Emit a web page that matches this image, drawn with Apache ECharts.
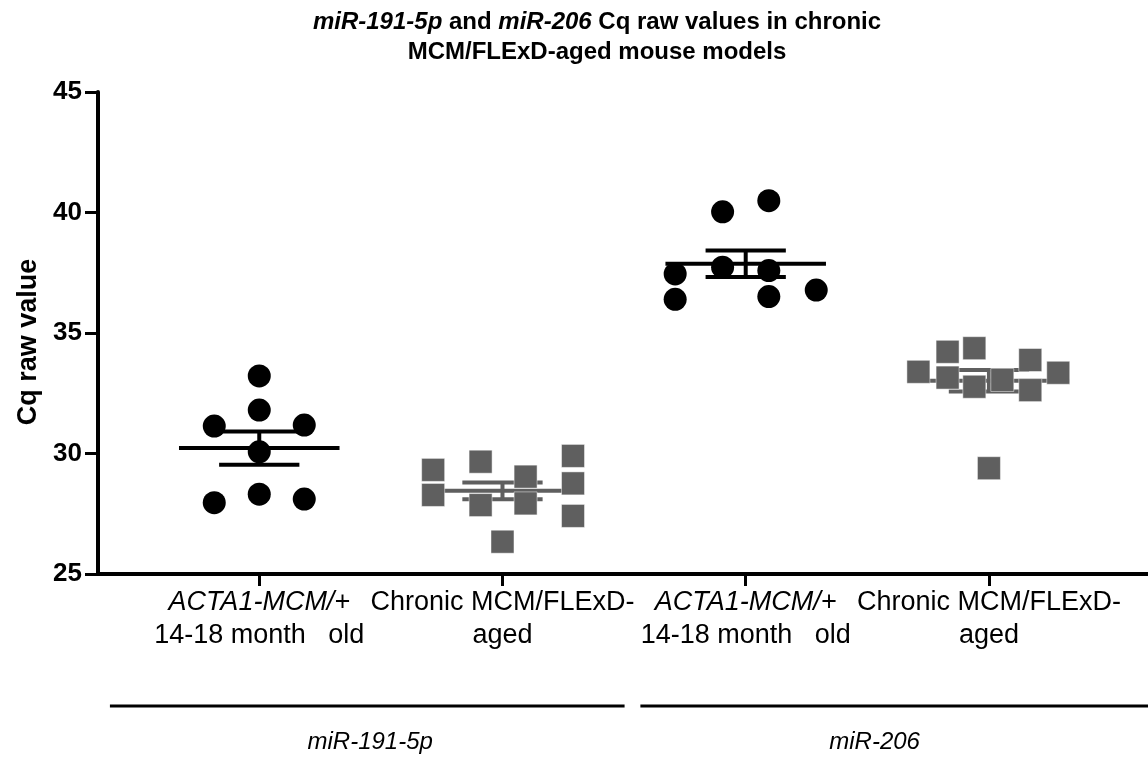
<!DOCTYPE html>
<html><head><meta charset="utf-8">
<script src="https://cdn.jsdelivr.net/npm/echarts@6/dist/echarts.min.js"></script>
<style>html,body{margin:0;padding:0;background:#fff}#c{width:1148px;height:759px}</style>
</head><body><div id="c"></div>
<script>
// ---- data ----
const catLine1 = ['ACTA1-MCM/+', 'Chronic MCM/FLExD-', 'ACTA1-MCM/+', 'Chronic MCM/FLExD-'];
const catLine2 = ['14-18 month   old', 'aged', '14-18 month   old', 'aged'];
const catLine1Italic = [true, false, true, false];
const genes = ['miR-191-5p', 'miR-206'];
const geneSpans = [[0.386, 2.502, 1.456], [2.567, 4.66, 3.53]]; // start, end, label centre (category units)
const yTicks = [25, 30, 35, 40, 45];

// group 1: miR-191-5p, ACTA1-MCM/+ 14-18 month old
const g1Values = [33.22, 31.80, 31.14, 31.18, 30.07, 27.96, 28.31, 28.11];
const g1Jitter = [0, 0, -0.185, 0.185, 0, -0.185, 0, 0.185];
// group 2: miR-191-5p, Chronic MCM/FLExD-aged
const g2Values = [29.32, 28.28, 29.66, 27.86, 26.34, 29.04, 27.93, 29.90, 28.76, 27.41];
const g2Jitter = [-0.285, -0.285, -0.09, -0.09, 0, 0.095, 0.095, 0.29, 0.29, 0.29];
// group 3: miR-206, ACTA1-MCM/+ 14-18 month old
const g3Values = [40.03, 40.49, 37.45, 36.40, 37.73, 37.59, 36.51, 36.78];
const g3Jitter = [-0.095, 0.095, -0.29, -0.29, -0.095, 0.095, 0.095, 0.29];
// group 4: miR-206, Chronic MCM/FLExD-aged
const g4Values = [33.39, 34.22, 33.15, 34.37, 32.77, 29.39, 33.05, 33.88, 32.63, 33.35];
const g4Jitter = [-0.29, -0.17, -0.17, -0.06, -0.06, 0, 0.055, 0.17, 0.17, 0.285];

const groups = [
  {values: g1Values, jitter: g1Jitter, symbol: 'circle', color: '#000000'},
  {values: g2Values, jitter: g2Jitter, symbol: 'rect', color: '#5f5f5f'},
  {values: g3Values, jitter: g3Jitter, symbol: 'circle', color: '#000000'},
  {values: g4Values, jitter: g4Jitter, symbol: 'rect', color: '#5f5f5f'}
];

function meanSem(a) {
  const n = a.length, m = a.reduce((s, v) => s + v, 0) / n;
  const sd = Math.sqrt(a.reduce((s, v) => s + (v - m) * (v - m), 0) / (n - 1));
  return [m, sd / Math.sqrt(n)];
}

const FONT = '"Liberation Sans", Arial, sans-serif';
const chart = echarts.init(document.getElementById('c'));

const series = [];
// mean ± SEM bars
series.push({
  type: 'custom',
  z: 1,
  silent: true,
  data: groups.map((g, i) => { const ms = meanSem(g.values); return [i + 1, ms[0], ms[1], i]; }),
  renderItem: function (params, api) {
    const x = api.value(0), m = api.value(1), s = api.value(2);
    const col = groups[api.value(3)].color;
    const st = {stroke: col, lineWidth: 4};
    const seg = (x1, y1, x2, y2) => {
      const p1 = api.coord([x1, y1]), p2 = api.coord([x2, y2]);
      return {type: 'line', shape: {x1: p1[0], y1: p1[1], x2: p2[0], y2: p2[1]}, style: st};
    };
    return {type: 'group', children: [
      seg(x - 0.33, m, x + 0.33, m),
      seg(x - 0.165, m + s, x + 0.165, m + s),
      seg(x - 0.165, m - s, x + 0.165, m - s),
      seg(x, m - s, x, m + s)
    ]};
  }
});
groups.forEach((g, i) => {
  series.push({
    type: 'scatter',
    z: 3,
    symbol: g.symbol,
    symbolSize: 23,
    itemStyle: {color: g.color, borderColor: g.symbol === 'rect' ? 'rgba(255,255,255,0.6)' : g.color, borderWidth: g.symbol === 'rect' ? 0.8 : 0, opacity: 1},
    data: g.values.map((v, j) => [i + 1 + g.jitter[j], v])
  });
});
// gene brackets below the axis
series.push({
  type: 'custom',
  silent: true,
  clip: false,
  data: geneSpans.map((s, i) => [s[0], s[1], s[2], i]),
  renderItem: function (params, api) {
    const a = api.coord([api.value(0), 25]);
    const b = api.coord([api.value(1), 25]);
    const c = api.coord([api.value(2), 25]);
    return {type: 'group', children: [
      {type: 'line', shape: {x1: a[0], y1: a[1] + 132, x2: b[0], y2: b[1] + 132}, style: {stroke: '#000', lineWidth: 3}},
      {type: 'text', style: {text: genes[api.value(3)], x: c[0], y: c[1] + 168, align: 'center', verticalAlign: 'middle', font: 'italic 24px ' + FONT, fill: '#000'}}
    ]};
  }
});

chart.setOption({
  animation: false,
  backgroundColor: '#fff',
  grid: {left: 98, right: 0, top: 92, bottom: 185, containLabel: false},
  graphic: [{
    type: 'text',
    x: 597, y: 7,
    style: {
      text: '{bi|miR-191-5p}{b| and }{bi|miR-206}{b| Cq raw values in chronic}\n{b|MCM/FLExD-aged mouse models}',
      align: 'center',
      verticalAlign: 'top',
      rich: {
        b: {fontFamily: FONT, fontWeight: 'bold', fontSize: 24, lineHeight: 30, fill: '#000'},
        bi: {fontFamily: FONT, fontWeight: 'bold', fontStyle: 'italic', fontSize: 24, lineHeight: 30, fill: '#000'}
      }
    }
  }],
  xAxis: {
    type: 'value',
    min: 0.337, max: 4.654,
    splitLine: {show: false},
    axisLine: {show: true, onZero: false, lineStyle: {color: '#000', width: 4}},
    axisTick: {show: true, customValues: [1, 2, 3, 4], length: 12, inside: false, lineStyle: {color: '#000', width: 3}},
    axisLabel: {
      show: true,
      customValues: [1, 2, 3, 4],
      margin: 12,
      formatter: function (v) {
        const i = Math.round(v) - 1;
        return '{' + (catLine1Italic[i] ? 'i' : 'n') + '|' + catLine1[i] + '}\n{n|' + catLine2[i] + '}';
      },
      rich: {
        i: {fontFamily: FONT, fontStyle: 'italic', fontSize: 27, lineHeight: 33, color: '#000'},
        n: {fontFamily: FONT, fontSize: 27, lineHeight: 33, color: '#000'}
      }
    }
  },
  yAxis: {
    type: 'value',
    min: yTicks[0], max: yTicks[yTicks.length - 1], interval: 5,
    splitLine: {show: false},
    axisLine: {show: true, lineStyle: {color: '#000', width: 4}},
    axisTick: {show: true, length: 13, lineStyle: {color: '#000', width: 3}},
    axisLabel: {margin: 16, fontFamily: FONT, fontWeight: 'bold', fontSize: 26, color: '#000'},
    name: 'Cq raw value',
    nameLocation: 'middle',
    nameGap: 55,
    nameTextStyle: {fontFamily: FONT, fontWeight: 'bold', fontSize: 27, color: '#000', padding: [0, 18, 0, 0]}
  },
  series: series
});
</script></body></html>
